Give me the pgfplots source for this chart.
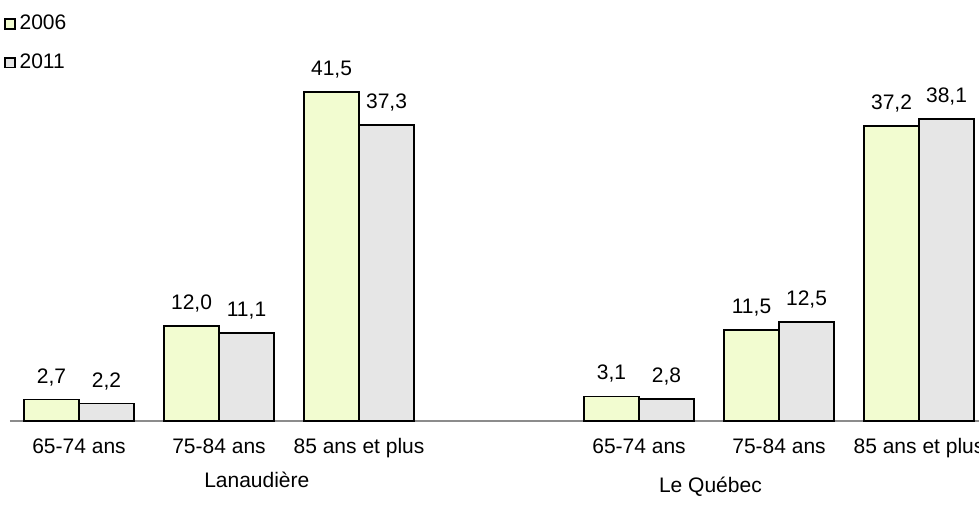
\documentclass[border=0pt]{standalone}
\usepackage{fontspec}
\setmainfont{Liberation Sans}
\usepackage{pgfplots}
\pgfplotsset{compat=1.18}
\definecolor{cA}{HTML}{F2FCD0}
\definecolor{cB}{HTML}{E6E6E6}
\definecolor{axg}{HTML}{8C8C8C}
\begin{document}
\fontsize{10.5}{12}\selectfont
\begin{tikzpicture}
\begin{axis}[
  x=70pt, y=3.965pt,
  xmin=-0.493, xmax=6.43, ymin=0, ymax=52,
  ybar=0pt, bar width=27.5pt,
  axis x line=bottom, hide y axis,
  axis line style={draw=axg, line width=0.8pt, -},
  xtick={0,1,2,4,5,6},
  xticklabels={65-74 ans,75-84 ans,85 ans et plus,65-74 ans,75-84 ans,85 ans et plus},
  xtick style={draw=none},
  xticklabel style={font=\fontsize{10.5}{12}\selectfont, yshift=-3pt},
  clip=false,
  /pgf/number format/assume math mode=true,
  nodes near coords,
  nodes near coords style={font=\fontsize{10.5}{12}\selectfont, anchor=south, yshift=3pt,
    /pgf/number format/.cd, fixed, fixed zerofill, precision=1, use comma},
  legend style={at={(axis cs:-0.536,51.75)}, anchor=north west, draw=none, fill=none,
    inner sep=0pt, row sep=6.5pt, font=\fontsize{10.5}{12}\selectfont,
    /tikz/every even column/.append style={column sep=0pt}},
  legend cell align=left,
  legend image code/.code={\draw[#1, line width=0.8pt] (0pt,-2.4pt) rectangle (4.8pt,2.4pt);},
]
\addplot[draw=black, line width=0.8pt, fill=cA] coordinates {(0,2.7) (1,12.0) (2,41.5) (4,3.1) (5,11.5) (6,37.2)};
\addplot[draw=black, line width=0.8pt, fill=cB] coordinates {(0,2.2) (1,11.1) (2,37.3) (4,2.8) (5,12.5) (6,38.1)};
\legend{2006,2011}
\coordinate (O) at (axis cs:-0.493,0);
\node at (axis cs:1.27,-7.44) {Lanaudière};
\node at (axis cs:4.51,-8.32) {Le Québec};
\end{axis}
\pgfresetboundingbox
\path ([xshift=-5pt,yshift=-49.5pt]O) rectangle ([xshift=484.5pt,yshift=210.5pt]O);
\end{tikzpicture}
\end{document}
